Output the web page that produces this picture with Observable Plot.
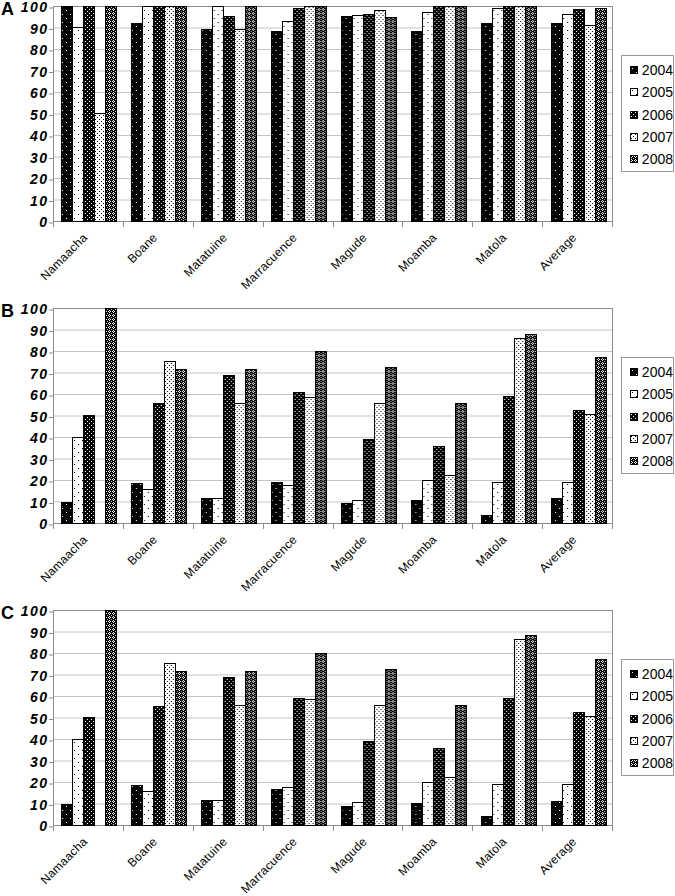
<!DOCTYPE html>
<html><head><meta charset="utf-8">
<script src="https://cdn.jsdelivr.net/npm/d3@7"></script>
<script src="https://cdn.jsdelivr.net/npm/@observablehq/plot@0.6"></script>
<style>
body{margin:0;background:#fff;font-family:Arial,"Liberation Sans",sans-serif;}
.panel{position:relative;width:675px;}
.panel > svg{position:absolute;left:0;top:0;overflow:visible;}
.letter{position:absolute;left:1px;top:0px;font-weight:bold;font-size:18px;line-height:1;}
.legend{position:absolute;left:621px;top:55px;width:53px;height:117px;border:1px solid #999;box-sizing:border-box;background:#fff;padding-top:3px}
.legend .row{height:22.3px;display:flex;align-items:center;font-size:14px;color:#000;}
.legend svg{margin:0 4px 0 8px;display:block}
</style></head><body>
<svg width="0" height="0" style="position:absolute">
<defs>
<pattern id="p2004" patternUnits="userSpaceOnUse" width="8" height="8">
<rect width="8" height="8" fill="#000"/><rect x="2" y="2" width="1" height="1" fill="#fff"/><rect x="6" y="6" width="1" height="1" fill="#fff"/>
</pattern>
<pattern id="p2005" patternUnits="userSpaceOnUse" width="8" height="8">
<rect width="8" height="8" fill="#fff"/><rect x="2" y="2" width="1" height="1" fill="#000"/><rect x="6" y="6" width="1" height="1" fill="#000"/>
</pattern>
<pattern id="p2006" patternUnits="userSpaceOnUse" width="4" height="4">
<rect width="4" height="4" fill="#000"/><rect x="1" y="1" width="1" height="1" fill="#fff"/><rect x="3" y="3" width="1" height="1" fill="#fff"/>
</pattern>
<pattern id="p2007" patternUnits="userSpaceOnUse" width="4" height="4">
<rect width="4" height="4" fill="#fff"/><rect x="1" y="1" width="1" height="1" fill="#000"/><rect x="3" y="3" width="1" height="1" fill="#000"/>
</pattern>
<pattern id="p2008" patternUnits="userSpaceOnUse" width="4" height="4">
<rect width="4" height="4" fill="#000"/>
<rect x="1" y="0" width="1" height="1" fill="#fff"/><rect x="0" y="1" width="1" height="1" fill="#fff"/>
<rect x="2" y="1" width="1" height="1" fill="#fff"/><rect x="1" y="2" width="1" height="1" fill="#fff"/>
<rect x="3" y="3" width="1" height="1" fill="#bbb"/>
</pattern>
</defs>
</svg>
<div id="root"></div>
<script>
const sites = ["Namaacha","Boane","Matatuine","Marracuence","Magude","Moamba","Matola","Average"];
const years = ["2004","2005","2006","2007","2008"];
const yTicks = [0,10,20,30,40,50,60,70,80,90,100];

// values per year (rows) for each site (columns)
const panelA = [
  [100, 92, 89, 88, 95, 88, 92, 92],
  [90, 100, 100, 93, 95.5, 97, 99, 96],
  [100, 100, 95, 99, 96, 100, 100, 98.5],
  [50, 100, 89, 100, 98, 100, 100, 91],
  [100, 100, 100, 100, 94.5, 100, 100, 99]
];
const panelB = [
  [9.5, 18.5, 11.5, 19, 9, 10.5, 3.5, 11.5],
  [40, 15.5, 11.5, 17.5, 10.5, 20, 19, 19],
  [50, 55.5, 68.5, 60.5, 39, 35.5, 59, 52.5],
  [null, 75, 55.5, 58.5, 55.5, 22, 86, 50.5],
  [100, 71.5, 71.5, 80, 72.5, 55.5, 87.5, 77]
];
const panelC = [
  [9.5, 18.5, 11.5, 16.5, 8.5, 10, 4, 11],
  [40, 15.5, 11.5, 17.5, 10.5, 20, 19, 19],
  [50, 55, 68.5, 59, 39, 35.5, 59, 52.5],
  [null, 75, 55.5, 58.5, 55.5, 22, 86.5, 50.5],
  [100, 71.5, 71.5, 80, 72.5, 55.5, 88, 77]
];
const panelLetters = ["A","B","C"];

const patterns = years.map(y => `url(#p${y})`);
const W = 675, ML = 53, MR = 63, MT = 6, INNER = 215;
const FONT = "Arial, 'Liberation Sans', sans-serif";
const GRAY = "#8c8c8c";

function tidy(vals) {
  const out = [];
  years.forEach((y, j) => sites.forEach((s, i) => {
    const v = vals[j][i];
    if (v != null) out.push({site: s, year: y, value: v});
  }));
  return out;
}

function panel(letter, vals, height) {
  const data = tidy(vals);
  const MB = height - MT - INNER;
  const common = {width: W, height, marginLeft: ML, marginRight: MR, marginTop: MT, marginBottom: MB};

  // underlay: grid, plot-area border, y axis
  const under = Plot.plot({
    ...common,
    style: {fontFamily: FONT, background: "white", color: "black", overflow: "visible"},
    y: {domain: [0, 100], label: null},
    marks: [
      Plot.gridY(yTicks, {stroke: "#c4c4c4", strokeOpacity: 1}),
      Plot.frame({stroke: GRAY}),
      Plot.axisY(yTicks, {tickSize: 4, tickPadding: 1, dy: 1.5, stroke: GRAY, fontWeight: "bold",
        fontStyle: "italic", fontSize: 14, label: null})
    ]
  });
  d3.select(under).selectAll("text").attr("letter-spacing", "1.5px").attr("fill", "black");

  // bars grouped by site
  const main = Plot.plot({
    ...common,
    style: {fontFamily: FONT, background: "transparent", color: "black", overflow: "visible"},
    fx: {domain: sites, padding: 0, round: false, label: null},
    x: {domain: years, paddingInner: 0, paddingOuter: 0.675, align: 0.6, round: false, axis: null},
    y: {domain: [0, 100], axis: null},
    color: {type: "ordinal", domain: years, range: patterns},
    marks: [
      Plot.frame({anchor: "left", insetTop: INNER, insetBottom: -5, stroke: GRAY, shapeRendering: "crispEdges"}),
      Plot.frame({anchor: "right", insetTop: INNER, insetBottom: -5, stroke: GRAY, shapeRendering: "crispEdges"}),
      Plot.barY(data, {fx: "site", x: "year", y: "value", fill: "year", stroke: "black", strokeWidth: 1,
        shapeRendering: "crispEdges"}),
      Plot.axisFx({anchor: "bottom", tickRotate: -45, tickSize: 0, tickPadding: 14, dx: -3, fontSize: 12, label: null})
    ]
  });
  d3.select(main).selectAll("g[aria-label='fx-axis tick label'] text").attr("letter-spacing", "0.3px");

  const div = document.createElement("div");
  div.className = "panel";
  div.style.height = height + "px";
  div.appendChild(under);
  div.appendChild(main);
  const l = document.createElement("div");
  l.className = "letter"; l.textContent = letter;
  div.appendChild(l);
  const leg = document.createElement("div");
  leg.className = "legend";
  years.forEach((y, j) => {
    const row = document.createElement("div");
    row.className = "row";
    row.innerHTML = `<svg width="8" height="8"><rect x="0.5" y="0.5" width="7" height="7" fill="${patterns[j]}" stroke="#000"/></svg><span>${y}</span>`;
    leg.appendChild(row);
  });
  div.appendChild(leg);
  return div;
}

const root = document.getElementById("root");
root.appendChild(panel(panelLetters[0], panelA, 302));
root.appendChild(panel(panelLetters[1], panelB, 302));
root.appendChild(panel(panelLetters[2], panelC, 292));
</script>
</body></html>
